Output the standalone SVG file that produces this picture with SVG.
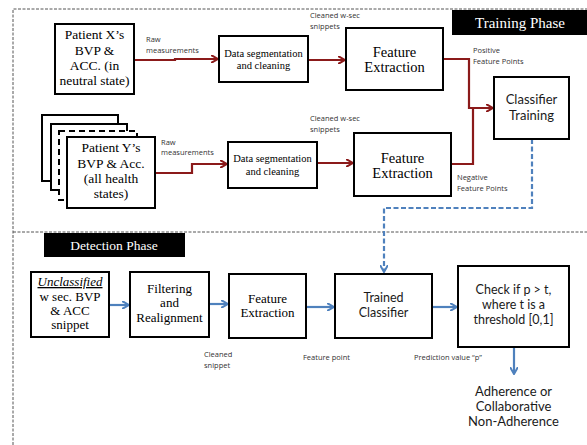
<svg xmlns="http://www.w3.org/2000/svg" width="587" height="445" viewBox="0 0 587 445">
<defs>
<style>
.box{fill:#fff;stroke:#000;stroke-width:2}
.tm{font-family:'Liberation Serif','Times New Roman',serif;fill:#000;text-anchor:middle}
.cb{font-family:Lato,'Liberation Sans',sans-serif;fill:#1a1a1a;text-anchor:middle}
.sm{font-family:'Open Sans','Liberation Sans',sans-serif;fill:#333;font-size:7.5px}
.red{fill:none;stroke:#8B1A1A;stroke-width:2.2}
.blue{fill:none;stroke:#4F81BD;stroke-width:2.2}
.frame{fill:none;stroke:#555;stroke-width:1;stroke-dasharray:3,1.5}
.wt{fill:#fff}
</style>
<marker id="ar" markerWidth="8" markerHeight="8" refX="6" refY="4" orient="auto" markerUnits="userSpaceOnUse"><path d="M0,0 L7,4 L0,8" fill="none" stroke="#8B1A1A" stroke-width="2"/></marker>
<marker id="ab" markerWidth="8" markerHeight="8" refX="6" refY="4" orient="auto" markerUnits="userSpaceOnUse"><path d="M0,0 L7,4 L0,8" fill="none" stroke="#4F81BD" stroke-width="2"/></marker>
</defs>
<rect width="587" height="445" fill="#fff"/>
<g id="frame">
<path class="frame" d="M13,445 L13,9 L587,9"/>
<path class="frame" d="M13,232 L587,232"/>
</g>
<g id="training-label">
<rect x="452" y="10" width="135" height="25" fill="#000"/>
<text class="tm wt" x="520" y="28" font-family="Liberation Serif, serif" font-size="15" style="fill:#fff">Training  Phase</text>
</g>
<g id="detection-label">
<rect x="44" y="233" width="141" height="24" fill="#000"/>
<text class="tm wt" x="114" y="250" font-family="Liberation Serif, serif" font-size="13.5" style="fill:#fff">Detection Phase</text>
</g>
<g id="connectors">
<path class="red" d="M134,60 L175,60 L175,59 L217,59" marker-end="url(#ar)"/>
<path class="red" d="M155,173 L192,173 L192,164 L226,164" marker-end="url(#ar)"/>
<path class="red" d="M308,60 L344,60" marker-end="url(#ar)"/>
<path class="red" d="M317,163 L352,163" marker-end="url(#ar)"/>
<path class="red" d="M443,59 L469,59 L469,108 L492,108" marker-end="url(#ar)"/>
<path class="red" d="M451,164 L473,164 L473,108"/>
<path class="blue" d="M532,139 L532,208 L384,208 L384,271" stroke-dasharray="5,2.5" marker-end="url(#ab)"/>
<path class="blue" d="M109,305 L128,305" marker-end="url(#ab)"/>
<path class="blue" d="M209,304 L227,304" marker-end="url(#ab)"/>
<path class="blue" d="M306,307 L333,307" marker-end="url(#ab)"/>
<path class="blue" d="M432,307 L456,307" marker-end="url(#ab)"/>
<path class="blue" d="M514,347 L514,373" marker-end="url(#ab)"/>
</g>
<g id="patient-x">
<rect class="box" x="55" y="24" width="79" height="70"/>
<text class="tm" font-family="Liberation Serif, serif" font-size="13.5"><tspan x="94.5" y="39">Patient X’s</tspan><tspan x="94.5" y="55">BVP &amp;</tspan><tspan x="94.5" y="70">ACC. (in</tspan><tspan x="94.5" y="85">neutral  state)</tspan></text>
</g>
<g id="patient-y">
<rect class="box" x="42" y="115" width="76" height="66"/>
<rect class="box" x="51" y="124" width="76" height="66"/>
<rect class="box" x="59" y="131" width="78" height="69" stroke-dasharray="6,4"/>
<rect class="box" x="67" y="137" width="88" height="71"/>
<text class="tm" font-family="Liberation Serif, serif" font-size="13.5"><tspan x="111" y="152">Patient  Y’s</tspan><tspan x="111" y="168">BVP &amp; Acc.</tspan><tspan x="111" y="183">(all  health</tspan><tspan x="111" y="198">states)</tspan></text>
</g>
<g id="seg1">
<rect class="box" x="219" y="36" width="89" height="46"/>
<text class="tm" font-family="Liberation Serif, serif" font-size="10.5"><tspan x="263.5" y="57">Data segmentation</tspan><tspan x="263.5" y="69">and cleaning</tspan></text>
</g>
<g id="seg2">
<rect class="box" x="228" y="142" width="89" height="46"/>
<text class="tm" font-family="Liberation Serif, serif" font-size="10.5"><tspan x="272.5" y="162">Data segmentation</tspan><tspan x="272.5" y="175">and cleaning</tspan></text>
</g>
<g id="fe1">
<rect class="box" x="346" y="28" width="97" height="62"/>
<text class="tm" font-family="Liberation Serif, serif" font-size="14.5"><tspan x="394.5" y="57">Feature</tspan><tspan x="394.5" y="72">Extraction</tspan></text>
</g>
<g id="fe2">
<rect class="box" x="354" y="133" width="97" height="63"/>
<text class="tm" font-family="Liberation Serif, serif" font-size="14.5"><tspan x="402.5" y="163">Feature</tspan><tspan x="402.5" y="178">Extraction</tspan></text>
</g>
<g id="classifier-training">
<rect class="box" x="494" y="77" width="75" height="62"/>
<text class="cb" font-size="13"><tspan x="531.5" y="104">Classifier</tspan><tspan x="531.5" y="120">Training</tspan></text>
</g>
<g id="unclassified">
<rect class="box" x="31" y="272" width="78" height="65"/>
<text class="tm" font-family="Liberation Serif, serif" font-size="13"><tspan x="70" y="286" font-style="italic" text-decoration="underline">Unclassified</tspan><tspan x="70" y="301">w sec. BVP</tspan><tspan x="70" y="315">&amp; ACC</tspan><tspan x="70" y="329">snippet</tspan></text>
</g>
<g id="filtering">
<rect class="box" x="130" y="272" width="79" height="65"/>
<text class="tm" font-family="Liberation Serif, serif" font-size="13"><tspan x="169.5" y="293">Filtering</tspan><tspan x="169.5" y="307">and</tspan><tspan x="169.5" y="322">Realignment</tspan></text>
</g>
<g id="fe3">
<rect class="box" x="229" y="274" width="77" height="64"/>
<text class="tm" font-family="Liberation Serif, serif" font-size="13"><tspan x="267.5" y="303">Feature</tspan><tspan x="267.5" y="317">Extraction</tspan></text>
</g>
<g id="trained-classifier">
<rect class="box" x="335" y="274" width="97" height="64"/>
<text class="cb" font-size="12.5"><tspan x="383.5" y="302">Trained</tspan><tspan x="383.5" y="317">Classifier</tspan></text>
</g>
<g id="check">
<rect class="box" x="458" y="266" width="111" height="81"/>
<text class="cb" font-size="12.5"><tspan x="513.5" y="294">Check if p &gt; t,</tspan><tspan x="513.5" y="309">where t is a</tspan><tspan x="513.5" y="324">threshold [0,1]</tspan></text>
</g>
<g id="labels">
<text class="sm"><tspan x="146" y="42">Raw</tspan><tspan x="146" y="53">measurements</tspan></text>
<text class="sm"><tspan x="161" y="145">Raw</tspan><tspan x="161" y="155">measurements</tspan></text>
<text class="sm"><tspan x="310" y="18">Cleaned w-sec</tspan><tspan x="310" y="29">snippets</tspan></text>
<text class="sm"><tspan x="310" y="121">Cleaned w-sec</tspan><tspan x="310" y="132">snippets</tspan></text>
<text class="sm"><tspan x="473" y="53">Positive</tspan><tspan x="473" y="64">Feature Points</tspan></text>
<text class="sm"><tspan x="457" y="180">Negative</tspan><tspan x="457" y="191">Feature Points</tspan></text>
<text class="sm"><tspan x="204" y="357">Cleaned</tspan><tspan x="204" y="368">snippet</tspan></text>
<text class="sm" x="303" y="360">Feature point</text>
<text class="sm" x="414" y="360">Prediction value “p”</text>
<text class="cb" font-size="13"><tspan x="513.5" y="396">Adherence or</tspan><tspan x="513.5" y="411">Collaborative</tspan><tspan x="513.5" y="426">Non-Adherence</tspan></text>
</g>
</svg>
